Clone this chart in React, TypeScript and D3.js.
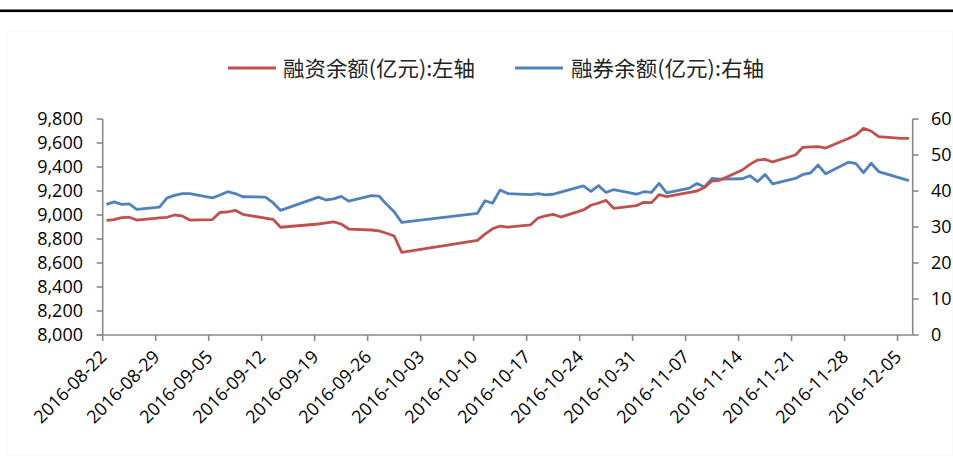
import React from 'react';
import * as d3 from 'd3';

const dates = [
  '2016-08-22','2016-08-23','2016-08-24','2016-08-25','2016-08-26',
  '2016-08-29','2016-08-30','2016-08-31','2016-09-01','2016-09-02',
  '2016-09-05','2016-09-06','2016-09-07','2016-09-08','2016-09-09',
  '2016-09-12','2016-09-13','2016-09-14',
  '2016-09-19','2016-09-20','2016-09-21','2016-09-22','2016-09-23',
  '2016-09-26','2016-09-27','2016-09-28','2016-09-29','2016-09-30',
  '2016-10-10','2016-10-11','2016-10-12','2016-10-13','2016-10-14',
  '2016-10-17','2016-10-18','2016-10-19','2016-10-20','2016-10-21',
  '2016-10-24','2016-10-25','2016-10-26','2016-10-27','2016-10-28',
  '2016-10-31','2016-11-01','2016-11-02','2016-11-03','2016-11-04',
  '2016-11-07','2016-11-08','2016-11-09','2016-11-10','2016-11-11',
  '2016-11-14','2016-11-15','2016-11-16','2016-11-17','2016-11-18',
  '2016-11-21','2016-11-22','2016-11-23','2016-11-24','2016-11-25',
  '2016-11-28','2016-11-29','2016-11-30','2016-12-01','2016-12-02',
  '2016-12-05','2016-12-06',
];

// 融资余额(亿元) — left axis
const marginBalance = [
  8956, 8962, 8978, 8981, 8958,
  8976, 8981, 9000, 8992, 8958,
  8962, 9022, 9025, 9039, 9006,
  8973, 8964, 8898,
  8925, 8935, 8942, 8925, 8883,
  8875, 8867, 8848, 8825, 8689,
  8789, 8840, 8885, 8908, 8898,
  8917, 8975, 8992, 9006, 8983,
  9042, 9081, 9100, 9122, 9056,
  9078, 9106, 9103, 9169, 9153,
  9189, 9200, 9230, 9283, 9289,
  9375, 9422, 9458, 9464, 9442,
  9500, 9564, 9567, 9569, 9558,
  9638, 9667, 9722, 9700, 9653,
  9639, 9639,
];

// 融券余额(亿元) — right axis
const shortBalance = [
  36.3, 37.0, 36.3, 36.4, 34.9,
  35.5, 38.1, 38.8, 39.25, 39.25,
  38.1, 38.9, 39.8, 39.3, 38.4,
  38.3, 36.75, 34.6,
  38.3, 37.5, 37.8, 38.5, 37.2,
  38.7, 38.6, 36.3, 34.25, 31.3,
  33.8, 37.3, 36.6, 40.3, 39.3,
  39.0, 39.25, 38.9, 39.1, 39.7,
  41.4, 39.9, 41.5, 39.6, 40.4,
  39.1, 39.8, 39.6, 42.1, 39.5,
  40.8, 42.1, 41.1, 43.5, 43.3,
  43.4, 44.25, 42.6, 44.6, 42.0,
  43.5, 44.6, 45.0, 47.2, 44.8,
  48.0, 47.6, 45.1, 47.7, 45.4,
  43.5, 42.9,
];

const leftTicks = [8000, 8200, 8400, 8600, 8800, 9000, 9200, 9400, 9600, 9800];
const rightTicks = [0, 10, 20, 30, 40, 50, 60];
const xTickLabels = [
  '2016-08-22','2016-08-29','2016-09-05','2016-09-12','2016-09-19',
  '2016-09-26','2016-10-03','2016-10-10','2016-10-17','2016-10-24',
  '2016-10-31','2016-11-07','2016-11-14','2016-11-21','2016-11-28','2016-12-05',
];
const seriesNames = ['融资余额(亿元):左轴', '融券余额(亿元):右轴'];
const axisStart = '2016-08-22';
const axisEnd = '2016-12-07';

const RED = '#C0504D';
const BLUE = '#4F81BD';
const AXIS = '#898989';
const FONT = '"Open Sans", "Liberation Sans", sans-serif';

export default function App() {
  const W = 953, H = 470;
  const left = 102.7, right = 912.7, top = 119, bottom = 335;
  const parse = d3.utcParse('%Y-%m-%d');
  const x = d3.scaleUtc().domain([parse(axisStart)!, parse(axisEnd)!]).range([left, right]);
  const yL = d3.scaleLinear().domain([8000, 9800]).range([bottom, top]);
  const yR = d3.scaleLinear().domain([0, 60]).range([bottom, top]);
  const xp = (s: string) => x(d3.utcHour.offset(parse(s)!, 12));

  const lineL = d3.line<number>().x((_, i) => xp(dates[i])).y((d) => yL(d));
  const lineR = d3.line<number>().x((_, i) => xp(dates[i])).y((d) => yR(d));
  const fmt = d3.format(',');

  return (
    <svg width={W} height={H} style={{ position: 'absolute', left: 0, top: 0, background: '#fff' }}>
      <rect x={0} y={0} width={W} height={H} fill="#fff" />
      <rect x={7.5} y={31.5} width={W - 8} height={424} fill="none" stroke="#f9f9f9" />
      <rect x={0} y={9.5} width={W} height={2.6} fill="#000" />

      {/* legend */}
      <line x1={228} x2={276} y1={68} y2={68} stroke={RED} strokeWidth={3} />
      <text x={283} y={76} fontFamily='"Noto Sans CJK SC", sans-serif' fontSize={21} fill="#222"
        textLength={192} lengthAdjust="spacingAndGlyphs">{seriesNames[0]}</text>
      <line x1={515} x2={563} y1={68} y2={68} stroke={BLUE} strokeWidth={3} />
      <text x={571} y={76} fontFamily='"Noto Sans CJK SC", sans-serif' fontSize={21} fill="#222"
        textLength={193} lengthAdjust="spacingAndGlyphs">{seriesNames[1]}</text>

      {/* axes */}
      <g stroke={AXIS} strokeWidth={1.6} fill="none">
        <line x1={left} x2={left} y1={top} y2={bottom} />
        <line x1={right} x2={right} y1={top} y2={bottom} />
        <line x1={left - 6} x2={right} y1={bottom} y2={bottom} />
        {leftTicks.map((t) => (
          <line key={'l' + t} x1={left - 6} x2={left} y1={yL(t)} y2={yL(t)} />
        ))}
        {rightTicks.map((t) => (
          <line key={'r' + t} x1={right} x2={right + 6} y1={yR(t)} y2={yR(t)} />
        ))}
        {xTickLabels.map((s) => (
          <line key={'x' + s} x1={x(parse(s)!)} x2={x(parse(s)!)} y1={bottom} y2={bottom + 6} />
        ))}
      </g>

      <g fontFamily={FONT} fontSize={18} fill="#000">
        {leftTicks.map((t) => (
          <text key={'lt' + t} x={83} y={yL(t)} dy="0.36em" textAnchor="end">{fmt(t)}</text>
        ))}
        {rightTicks.map((t) => (
          <text key={'rt' + t} x={931} y={yR(t)} dy="0.36em" textAnchor="start">{t}</text>
        ))}
        {xTickLabels.map((s) => {
          const tx = x(parse(s)!) + 5;
          const ty = 358;
          return (
            <text key={'xt' + s} x={tx} y={ty} textAnchor="end" transform={`rotate(-45 ${tx} ${ty})`}>{s}</text>
          );
        })}
      </g>

      <path d={lineR(shortBalance)!} fill="none" stroke={BLUE} strokeWidth={2.8} strokeLinejoin="round" />
      <path d={lineL(marginBalance)!} fill="none" stroke={RED} strokeWidth={2.8} strokeLinejoin="round" />
    </svg>
  );
}
